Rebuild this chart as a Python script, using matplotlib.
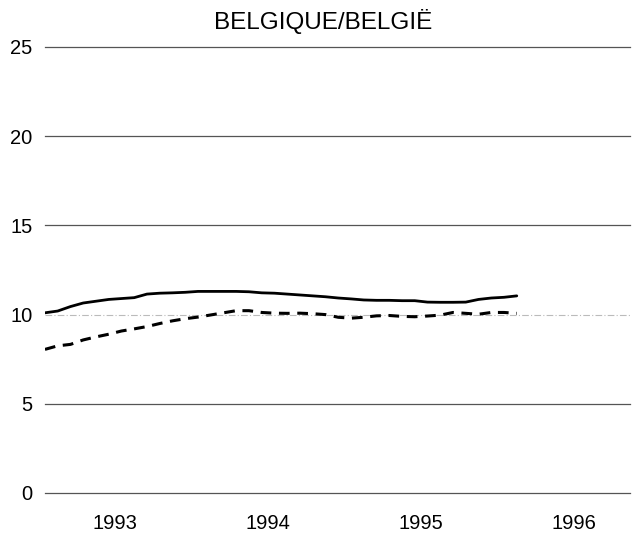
import numpy as np
import matplotlib
matplotlib.use('Agg')
import matplotlib.pyplot as plt

plt.rcParams['font.family'] = ['Liberation Sans', 'DejaVu Sans']

# Monthly values, Jan 1993 - Feb 1996
series_solid = [10.1, 10.2, 10.45, 10.65, 10.75, 10.85, 10.9, 10.95, 11.15, 11.2,
                11.22, 11.25, 11.3, 11.3, 11.3, 11.3, 11.28, 11.22, 11.2, 11.15,
                11.1, 11.05, 11.0, 10.93, 10.88, 10.82, 10.8, 10.8, 10.78, 10.78,
                10.7, 10.69, 10.69, 10.7, 10.85, 10.93, 10.97, 11.05]
series_dashed = [8.05, 8.25, 8.33, 8.58, 8.75, 8.9, 9.08, 9.2, 9.33, 9.5,
                 9.65, 9.77, 9.86, 9.98, 10.1, 10.22, 10.22, 10.12, 10.08, 10.07,
                 10.08, 10.05, 10.0, 9.85, 9.8, 9.85, 9.93, 9.95, 9.9, 9.88,
                 9.92, 9.97, 10.12, 10.07, 10.02, 10.12, 10.12, 10.07]
years = [1993, 1994, 1995, 1996]
y_ticks = [0, 5, 10, 15, 20, 25]

# month positions as fractional years (mid-month)
x = 1993 + (np.arange(len(series_solid)) + 0.5) / 12

fig = plt.figure(figsize=(6.39, 5.38), dpi=100)
ax = fig.add_axes([45 / 639, 1 - 493 / 538, 585 / 639, 446 / 538])

# horizontal grid lines
for yv in y_ticks:
    if yv == 10:
        ax.axhline(yv, color='#bbbbbb', lw=0.8, ls=(0, (6, 2, 1, 2)), zorder=1, clip_on=False)
    else:
        ax.axhline(yv, color='#555555', lw=0.9, zorder=1, clip_on=False)

ax.plot(x, series_solid, color='black', lw=2.0, solid_capstyle='round', zorder=3)
ax.plot(x, series_dashed, color='black', lw=2.2, ls=(0, (3.5, 2.5)), zorder=3)

ax.set_xlim(1993.042, 1996.865)
ax.set_ylim(0, 25)
ax.set_yticks(y_ticks)
ax.set_xticks([yr + 0.5 for yr in years])
ax.set_xticklabels([str(yr) for yr in years])
ax.tick_params(axis='both', length=0, labelsize=14.5)
ax.tick_params(axis='y', pad=9)
ax.tick_params(axis='x', pad=15)
for s in ax.spines.values():
    s.set_visible(False)

fig.text(323 / 639, 1 - 29 / 538, 'BELGIQUE/BELGIË', ha='center', va='baseline', fontsize=17.5)

fig.savefig('out.png', dpi=100)
